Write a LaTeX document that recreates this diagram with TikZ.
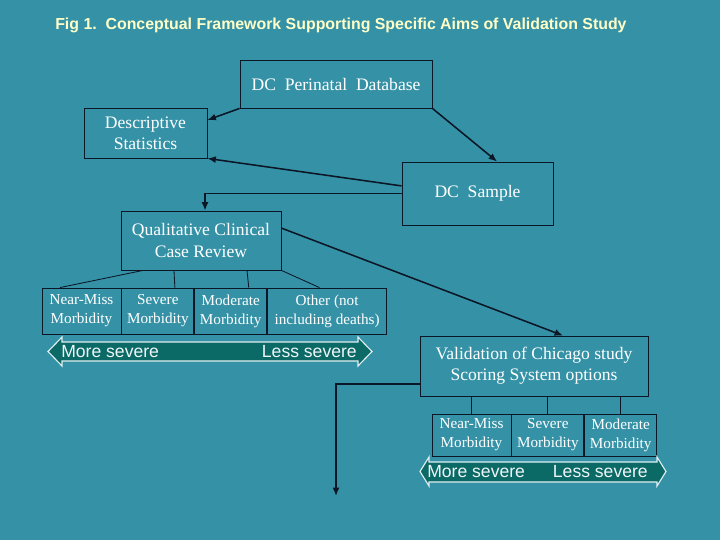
\documentclass[tikz,border=0pt]{standalone}
\usepackage{fontspec}
\setmainfont{Liberation Serif}
\setsansfont{Liberation Sans}
\usetikzlibrary{arrows.meta, positioning}
\definecolor{slide}{HTML}{3592A6}
\definecolor{ink}{HTML}{0B1626}
\definecolor{band}{HTML}{0C6A66}
\definecolor{titlefg}{HTML}{FFFFC8}

\begin{document}
\begin{tikzpicture}[
  x=0.025cm, y=-0.025cm,
  box/.style={rectangle, draw=ink, line width=0.6pt, align=center, text=white, inner sep=0pt, font=\fontsize{12.5}{15}\selectfont},
  cat/.style={box, font=\fontsize{10.8}{13.5}\selectfont},
  link/.style={draw=ink, line width=1.1pt, ->},
  tie/.style={draw=ink, line width=0.6pt},
  band/.style={draw=white!85!slide, line width=0.8pt, fill=band},
  sev/.style={text=white!92!slide, font=\sffamily\fontsize{12.5}{15}\selectfont, inner sep=0pt},
  >={Latex[length=6pt, width=5pt]}
]
\fill[slide] (0,0) rectangle (720,540);
\useasboundingbox (0,0) rectangle (720,540);

\node[anchor=west, inner sep=0pt, text=titlefg, font=\sffamily\bfseries\fontsize{11.3}{13}\selectfont] (title) at (55,25) {Fig 1.\ \ Conceptual Framework Supporting Specific Aims of Validation Study};

\node[box, minimum width=4.8cm, minimum height=1.2cm] (db) at (336,84) {DC~~Perinatal~~Database};
\node[box, minimum width=3.075cm, minimum height=1.25cm] (desc) at (145.5,133) {Descriptive\\Statistics};
\node[box, minimum width=3.775cm, minimum height=1.575cm] (samp) at (477.5,193.5) {DC~~Sample};
\node[box, minimum width=4cm, minimum height=1.475cm] (qual) at (201,240.5) {Qualitative Clinical\\Case Review};

% outcome groups under the case review
\node[cat, minimum width=1.975cm, minimum height=1.15cm] (nm) at (81.5,311) {Near-Miss\\Morbidity};
\node[cat, minimum width=1.8cm, minimum height=1.15cm, right=0pt of nm] (sv) {Severe\\Morbidity};
\node[cat, minimum width=1.8cm, minimum height=1.15cm, right=0pt of sv] (md) {Moderate\\Morbidity};
\node[cat, minimum width=2.975cm, minimum height=1.15cm, right=0pt of md] (ot) {Other (not\\including deaths)};

\node[box, minimum width=5.7cm, minimum height=1.5cm] (valid) at (534,366) {Validation of Chicago study\\Scoring System options};

% scoring options
\node[cat, minimum width=1.975cm, minimum height=1.05cm] (v1) at (471.5,435) {Near-Miss\\Morbidity};
\node[cat, minimum width=1.8cm, minimum height=1.05cm, right=0pt of v1] (v2) {Severe\\Morbidity};
\node[cat, minimum width=1.8cm, minimum height=1.05cm, right=0pt of v2] (v3) {Moderate\\Morbidity};

% severity bands
\draw[band] (48,351.5) -- (62,337) -- (62,342) -- (358,342) -- (358,337) -- (372,351.5) -- (358,366) -- (358,361) -- (62,361) -- (62,366) -- cycle;
\node[sev, anchor=west] (more1) at (61,351.5) {More severe};
\node[sev, anchor=east] (less1) at (357,351.5) {Less severe};

\draw[band] (420,471.5) -- (429,457) -- (429,462) -- (657,462) -- (657,457) -- (666,471.5) -- (657,486) -- (657,482) -- (429,482) -- (429,486) -- cycle;
\node[sev, anchor=west] (more2) at (427,471.5) {More severe};
\node[sev, anchor=east] (less2) at (648,471.5) {Less severe};

% connectors
\draw[link] (db.south west) -- ([yshift=0.325cm]desc.east);
\draw[link] (db.south east) -- ([xshift=0.49cm]samp.north);
\draw[link] ([yshift=0.19cm]samp.west) -- (desc.south east);
\draw[link] (samp.west) -| ([xshift=0.1cm]qual.north);
\draw[link] ([yshift=0.31cm]qual.east) -- ([xshift=0.725cm]valid.north);
\coordinate (drop) at (336,496);
\draw[link] ([yshift=-0.45cm]valid.west) -| (drop);

\draw[tie] ([xshift=-1.45cm]qual.south) -- ([xshift=-0.54cm]nm.north);
\draw[tie] ([xshift=-0.675cm]qual.south) -- ([xshift=0.425cm]sv.north);
\draw[tie] ([xshift=1.15cm]qual.south) -- ([xshift=0.45cm]md.north);
\draw[tie] (qual.south east) -- ([xshift=-0.19cm]ot.north);
\foreach \c in {v1,v2,v3}
  \draw[tie] (\c.north |- valid.south) -- (\c.north);
\end{tikzpicture}
\end{document}
